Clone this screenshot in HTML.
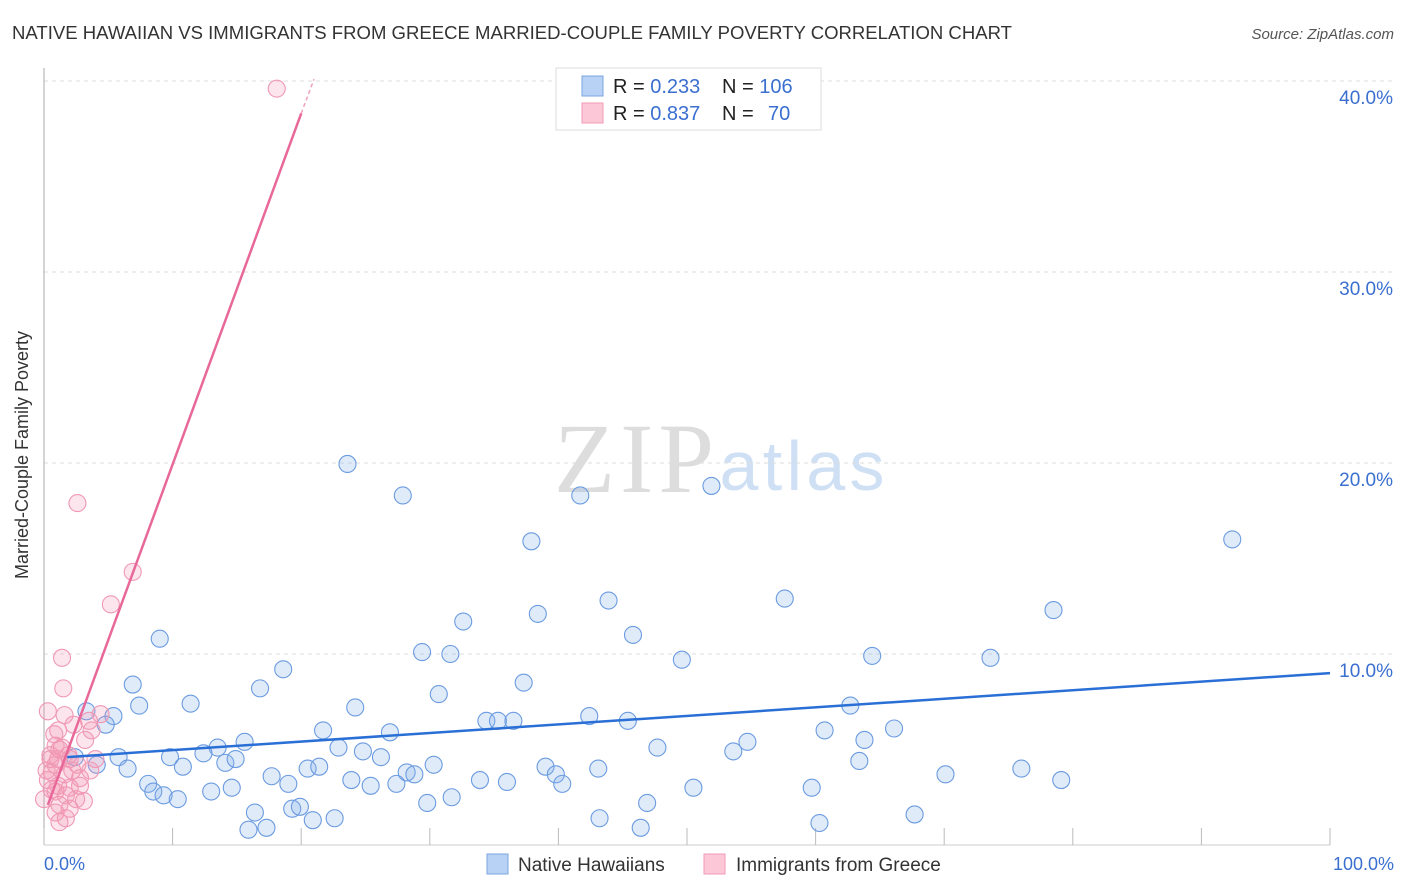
<!DOCTYPE html>
<html><head><meta charset="utf-8"><style>
body{margin:0;background:#fff;font-family:"Liberation Sans",sans-serif}
svg{display:block}
</style></head><body>
<svg width="1406" height="892" id="c">
<text x="12" y="39" font-size="18" fill="#333" textLength="1000" lengthAdjust="spacingAndGlyphs">NATIVE HAWAIIAN VS IMMIGRANTS FROM GREECE MARRIED-COUPLE FAMILY POVERTY CORRELATION CHART</text>
<text x="1394" y="39" font-size="15" fill="#555" font-style="italic" text-anchor="end">Source: ZipAtlas.com</text>
<text x="634" y="492" font-size="100" fill="#ddd" font-family="Liberation Serif,serif" text-anchor="middle" textLength="160">ZIP</text>
<text x="802" y="490" font-size="70" fill="#cfe0f5" text-anchor="middle" textLength="165">atlas</text>
<g id="grid"></g>
<g id="axes"></g>
<g id="pts"></g>
<g id="lines"></g>
<text x="28" y="455" font-size="18" fill="#333" text-anchor="middle" transform="rotate(-90 28 455)">Married-Couple Family Poverty</text>
<text x="44" y="870" font-size="18" fill="#3a6fd0">0.0%</text>
<text x="1394" y="870" font-size="18" fill="#3a6fd0" text-anchor="end">100.0%</text>
<g>
<rect x="556" y="68" width="265" height="62" fill="#fff" stroke="#ddd"/>
<rect x="582" y="76" width="21" height="20" fill="#b8d2f5" stroke="#7aa6e0"/>
<rect x="582" y="103" width="21" height="20" fill="#fcc8d8" stroke="#f09ab5"/>
<text x="613" y="93" font-size="20" fill="#222">R = <tspan fill="#3a6fd0">0.233</tspan><tspan x="722">N = </tspan><tspan fill="#3a6fd0">106</tspan></text>
<text x="613" y="120" font-size="20" fill="#222">R = <tspan fill="#3a6fd0">0.837</tspan><tspan x="722">N = </tspan><tspan fill="#3a6fd0" x="768">70</tspan></text>
</g>
<g>
<rect x="487" y="854" width="21" height="20" fill="#b8d2f5" stroke="#7aa6e0"/>
<text x="518" y="871" font-size="19" fill="#333">Native Hawaiians</text>
<rect x="704" y="854" width="21" height="20" fill="#fcc8d8" stroke="#f09ab5"/>
<text x="736" y="871" font-size="19" fill="#333">Immigrants from Greece</text>
</g>
</svg>
<script>
const yTicks=[10,20,30,40];
const yTickLabels=["10.0%","20.0%","30.0%","40.0%"];
const xTicks=[0,10,20,30,40,50,60,70,80,90,100];
const blueX=[23.6,27.9,41.7,51.9,92.4,37.9,43.9,57.6,38.4,78.5,32.6,9.0,45.8,29.4,31.6,49.6,64.4,73.6,18.6,6.9,37.3,16.8,30.7,11.4,7.4,24.2,62.7,3.3,5.4,4.8,34.4,35.3,36.5,42.4,45.4,21.7,26.9,60.7,66.1,63.8,54.7,15.6,13.5,22.9,47.7,24.8,53.6,5.8,9.8,12.4,2.4,4.1,14.1,14.9,26.2,30.3,6.5,10.8,20.5,21.4,39.0,63.4,28.2,28.8,39.8,43.1,76.0,17.7,23.9,27.4,33.9,36.0,40.3,70.1,79.1,8.1,19.0,25.4,8.5,9.3,10.4,13.0,14.6,31.7,50.5,59.7,29.8,46.9,19.3,19.9,16.4,43.2,67.7,20.9,22.6,15.9,17.3,46.4,60.3];
const blueY=[19.95,18.3,18.3,18.8,16.0,15.9,12.8,12.9,12.1,12.3,11.7,10.8,11.0,10.1,10.0,9.7,9.9,9.8,9.2,8.4,8.5,8.2,7.9,7.4,7.3,7.2,7.3,7.0,6.75,6.3,6.5,6.5,6.5,6.75,6.5,6.0,5.9,6.0,6.1,5.5,5.4,5.4,5.1,5.1,5.1,4.9,4.9,4.6,4.6,4.8,4.6,4.2,4.3,4.5,4.6,4.2,4.0,4.1,4.0,4.1,4.1,4.4,3.8,3.7,3.7,4.0,4.0,3.6,3.4,3.2,3.4,3.3,3.2,3.7,3.4,3.2,3.2,3.1,2.8,2.6,2.4,2.8,3.0,2.5,3.0,3.0,2.2,2.2,1.9,2.0,1.7,1.4,1.6,1.3,1.4,0.8,0.9,0.9,1.15];
const pinkX=[18.1,2.6,6.9,5.2,1.4,1.5,0.3,1.6,4.4,3.5,2.3,1.1,3.7,3.2,0.9,1.2,0.5,2.0,2.6,0.9,0.6,1.6,2.8,0.3,1.1,2.0,0.9,1.7,2.5,3.1,1.2,2.0,0.9,1.7,1.2,0.5,0.2,0.8,1.4,2.2,1.9,1.1,0.6,0,2.8,3.6,4.0];
const pinkY=[39.6,17.9,14.3,12.6,9.8,8.2,7.0,6.8,6.85,6.5,6.3,6.0,6.0,5.5,5.2,5.0,4.7,4.5,4.2,4.2,3.8,3.7,3.5,3.4,3.1,3.0,2.8,2.6,2.4,2.3,2.1,1.9,1.7,1.4,1.2,4.5,3.9,5.8,5.1,3.9,4.7,4.5,2.9,2.4,3.1,3.9,4.5];
const blueTrend=[[1.8,4.6],[100,9.0]];
const pinkTrend=[[0.3,2.1],[20.0,38.3]];
const pinkTrendDash=[[20.0,38.3],[21.0,40.1]];
const X=v=>44+v*12.86, Y=v=>845-v*19.1;
const NS="http://www.w3.org/2000/svg";
function mk(t,a,p){const e=document.createElementNS(NS,t);for(const k in a)e.setAttribute(k,a[k]);p.appendChild(e);return e;}
const grid=document.getElementById('grid'),axes=document.getElementById('axes'),pts=document.getElementById('pts'),lines=document.getElementById('lines');
yTicks.forEach((t,i)=>{
 const l=mk('line',{x1:44,x2:1394,y1:Y(t),y2:Y(t),stroke:'#ddd','stroke-dasharray':'4,4'},grid);
 
 
 const tx=mk('text',{x:1393,y:Y(t)+23,'font-size':19,fill:'#3a6fd0','text-anchor':'end'},grid);
 tx.textContent=yTickLabels[i];
 
 
});
mk('line',{x1:44,x2:44,y1:68,y2:845,stroke:'#aaa'},axes);
mk('line',{x1:44,x2:1330,y1:845,y2:845,stroke:'#ccc'},axes);
xTicks.forEach(t=>{const l=mk('line',{x1:X(t),x2:X(t),y1:828,y2:845,stroke:'#bbb'},axes);
 
 });
blueX.forEach((v,i)=>{const c=mk('circle',{cx:X(v),cy:Y(blueY[i]),r:8.5,fill:'rgba(130,175,235,0.25)',stroke:'#6b9be0','stroke-width':1.1},pts);
 
 });
pinkX.forEach((v,i)=>{const c=mk('circle',{cx:X(v),cy:Y(pinkY[i]),r:8.5,fill:'rgba(245,150,180,0.25)',stroke:'#f098b5','stroke-width':1.1},pts);
 
 });
const bl=mk('line',{x1:X(blueTrend[0][0]),y1:Y(blueTrend[0][1]),x2:X(blueTrend[1][0]),y2:Y(blueTrend[1][1]),stroke:'#2a6fd6','stroke-width':2.5},lines);


const pl=mk('line',{x1:X(pinkTrend[0][0]),y1:Y(pinkTrend[0][1]),x2:X(pinkTrend[1][0]),y2:Y(pinkTrend[1][1]),stroke:'#e8689a','stroke-width':2.5},lines);


const pd=mk('line',{x1:X(pinkTrendDash[0][0]),y1:Y(pinkTrendDash[0][1]),x2:X(pinkTrendDash[1][0]),y2:Y(pinkTrendDash[1][1]),stroke:'#f0a0bd','stroke-width':1.5,'stroke-dasharray':'4,3'},lines);


</script>
</body></html>
